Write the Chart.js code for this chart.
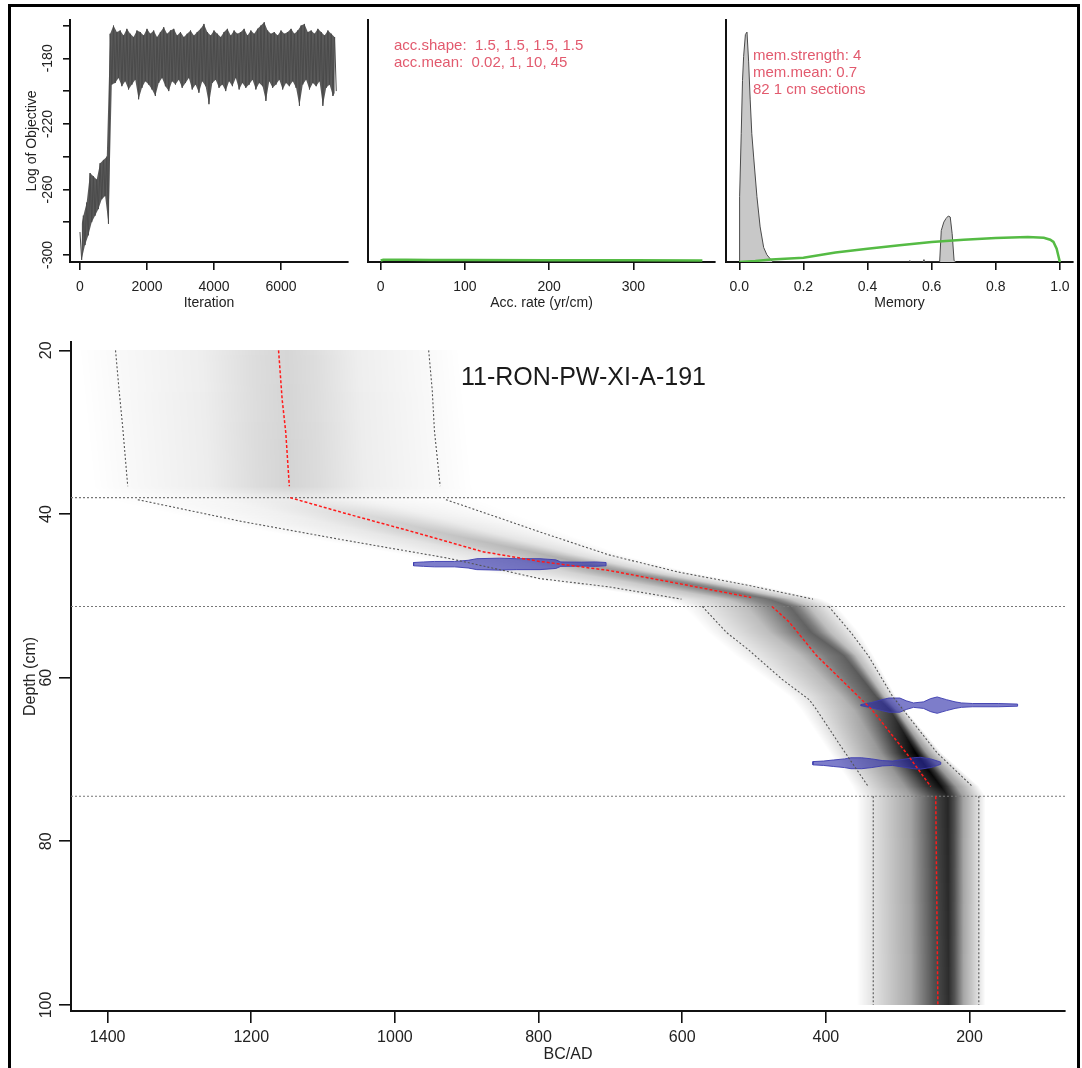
<!DOCTYPE html>
<html>
<head>
<meta charset="utf-8">
<script src="https://cdn.jsdelivr.net/npm/chart.js@4.4.1/dist/chart.umd.min.js"></script>
<style>
  html, body { margin: 0; padding: 0; background: #fff; overflow: hidden; }
  body { width: 1082px; height: 1068px; position: relative; }
  #frame { position: absolute; left: 8px; top: 4px; width: 1072px; height: 1100px; border: 3px solid #000; box-sizing: border-box; }
  canvas { position: absolute; }
</style>
</head>
<body>
<div id="frame"></div>
<canvas id="traceChart"></canvas>
<canvas id="accChart"></canvas>
<canvas id="memChart"></canvas>
<canvas id="ageChart"></canvas>
<script>
// ---------- MCMC trace (one high and one low value per 100 iterations) ----------
const traceIter = [0,100,200,300,400,500,600,700,800,900,1000,1100,1200,1300,1400,1500,1600,1700,1800,1900,
  2000,2100,2200,2300,2400,2500,2600,2700,2800,2900,3000,3100,3200,3300,3400,3500,3600,3700,3800,3900,
  4000,4100,4200,4300,4400,4500,4600,4700,4800,4900,5000,5100,5200,5300,5400,5500,5600,5700,5800,5900,
  6000,6100,6200,6300,6400,6500,6600,6700,6800,6900,7000,7100,7200,7300,7400,7500,7600];
const traceHigh = [-286,-276,-268,-250,-252,-254,-244,-242,-240,-165,-160,-164,-163,-166,-162,-165,-167,-163,-164,-166,
  -162,-165,-163,-167,-164,-161,-165,-163,-162,-166,-164,-167,-165,-163,-166,-164,-162,-159,-164,-166,
  -163,-165,-167,-164,-162,-166,-163,-165,-164,-162,-166,-163,-165,-162,-160,-158,-163,-165,-164,-166,
  -163,-165,-164,-162,-165,-163,-160,-159,-164,-163,-165,-162,-164,-166,-163,-165,-167];
const traceLow = [-303,-294,-288,-280,-276,-272,-266,-264,-281,-196,-195,-192,-197,-194,-199,-196,-193,-205,-198,-194,
  -196,-199,-203,-195,-192,-197,-200,-194,-196,-193,-198,-195,-192,-199,-196,-201,-194,-197,-208,-195,
  -193,-198,-196,-200,-194,-197,-192,-199,-195,-198,-196,-193,-199,-195,-197,-206,-194,-198,-196,-193,
  -199,-195,-197,-194,-198,-209,-196,-193,-199,-195,-197,-194,-209,-198,-196,-203,-200];
const traceXTicks = [0, 2000, 4000, 6000];
const traceYTicks = [-300, -280, -260, -240, -220, -200, -180, -160];
const traceYLabels = [-300, -260, -220, -180];

// ---------- accumulation rate prior ----------
const accRate = [0, 3, 10, 30, 60, 100, 200, 300, 382];
const accPrior = [0.006, 0.009, 0.009, 0.009, 0.008, 0.008, 0.007, 0.007, 0.006];
const accTicks = [0, 100, 200, 300];
const accNotes = ['acc.shape:  1.5, 1.5, 1.5, 1.5', 'acc.mean:  0.02, 1, 10, 45'];

// ---------- memory posterior and prior ----------
const memValue = [0, 0.001, 0.006, 0.010, 0.0135, 0.019, 0.024, 0.029, 0.034, 0.039, 0.045, 0.055, 0.065, 0.076, 0.086, 0.096, 0.105,
  0.53, 0.532, 0.534, 0.573, 0.576, 0.579, 0.625, 0.630, 0.638, 0.645, 0.652, 0.658, 0.664, 0.670, 0.675];
const memDensity = [0, 0.27, 0.53, 0.75, 0.85, 0.94, 0.95, 0.83, 0.67, 0.53, 0.43, 0.27, 0.145, 0.06, 0.03, 0.014, 0,
  0, 0.006, 0, 0, 0.01, 0, 0, 0.13, 0.165, 0.18, 0.19, 0.186, 0.117, 0.007, 0];
const memPriorValue = [0, 0.05, 0.1, 0.2, 0.3, 0.4, 0.5, 0.6, 0.7, 0.8, 0.9, 0.95, 0.97, 0.98, 0.99, 1.0];
const memPrior = [0, 0.004, 0.01, 0.018, 0.039, 0.055, 0.069, 0.083, 0.092, 0.099, 0.103, 0.1, 0.092, 0.083, 0.055, 0];
const memTicks = [0, 0.2, 0.4, 0.6, 0.8, 1.0];
const memNotes = ['mem.strength: 4', 'mem.mean: 0.7', '82 1 cm sections'];

// ---------- age-depth model (null = break between sections) ----------
const coreName = '11-RON-PW-XI-A-191';
const boundaryDepths = [38, 51.3, 74.5];
const meanDepth = [20, 26, 30, 36.6, null, 38, 39.9, 42.2, 44.6, 45.8, 46.9, 48.5, 50.2, null, 51.3, 53.2, 57.3, 61.4, 63.9, 69.2, 73.3, null, 74.5, 100];
const meanAge =   [1162, 1157, 1152, 1147, null, 1146, 1070, 974, 878, 798, 702, 605, 504, null, 475, 451, 413, 365, 336, 288, 254, null, 247, 244];
const oldDepth = [20, 24.9, 29.4, 36.6, null, 38.25, 40.9, 43.2, 45.4, 47.9, 48.9, 50.4, null, 51.3, 54.5, 56.5, 60.2, 62.7, 63.9, 68.4, 73.3, null, 74.5, 100];
const oldAge =   [1389, 1384, 1379, 1372, null, 1358, 1214, 1070, 926, 798, 702, 601, null, 572, 538, 509, 461, 423, 413, 379, 341, null, 334, 334];
const youngDepth = [20, 24.9, 29.8, 36.6, null, 38.25, 40.5, 42.2, 45, 47.1, 48.7, 50.4, null, 51.3, 54.5, 57.3, 62.3, 69.2, 73.3, null, 74.5, 100];
const youngAge =   [953, 948, 945, 937, null, 929, 854, 798, 702, 605, 509, 418, null, 396, 365, 341, 307, 245, 196, null, 187, 187];

// grey-scale age probabilities: 95% range, most likely age, relative peak density
const shadeDepth = [20, 36.6, 38.2, 40.5, 42.2, 45, 47.1, 48.7, 50.4, 51.3, 54.5, 57.3, 62.3, 64, 69.2, 73.3, 74.5, 100];
const shadeOld =   [1389, 1372, 1358, 1236, 1133, 952, 839, 721, 601, 572, 538, 499, 429, 412, 373, 341, 334, 334];
const shadePeak =  [1150, 1147, 1140, 1020, 940, 790, 680, 580, 480, 450, 420, 375, 330, 310, 275, 240, 230, 229];
const shadeYoung = [953, 937, 929, 854, 798, 702, 605, 509, 418, 396, 365, 341, 307, 292, 245, 196, 187, 187];
const shadeDensity = [0.16, 0.17, 0.08, 0.16, 0.22, 0.3, 0.4, 0.5, 0.56, 0.6, 0.62, 0.62, 0.68, 0.76, 1.0, 0.95, 0.85, 0.82];

// calibrated dates
const dateDepths = [46.13, 63.36, 70.46];
const dateAges = [
  [706, 721, 740, 769, 776, 798, 831, 854, 886, 898, 917, 945, 960, 974],
  [133, 160, 196, 211, 220, 232, 245, 254, 264, 278, 288, 297, 312, 322, 336, 351],
  [240, 244.5, 254, 268.6, 278, 292.5, 307, 321.5, 336, 350, 365, 374, 389, 403, 418]
];
const dateProbs = [
  [0.2, 0.27, 0.24, 0.27, 0.53, 0.67, 0.67, 0.73, 0.67, 0.47, 0.33, 0.33, 0.27, 0.2],
  [0.13, 0.2, 0.2, 0.27, 0.4, 0.67, 1.0, 0.8, 0.4, 0.27, 0.53, 0.87, 0.87, 0.67, 0.33, 0.07],
  [0.13, 0.27, 0.53, 0.73, 0.67, 0.47, 0.27, 0.33, 0.53, 0.67, 0.67, 0.53, 0.4, 0.27, 0.2]
];
const ageTicks = [1400, 1200, 1000, 800, 600, 400, 200];
const depthTicks = [20, 40, 60, 80, 100];

// ---------- helpers ----------
const FONT = '"Liberation Sans", Arial, Helvetica, sans-serif';
const INK = '#111';
const TEXT = '#222';
const NOTE = '#e25a6e';
const DATE_HALF_HEIGHT = 1.0; // cm for a probability of 1

function axis(o) {
  const hasTicks = !!o.values;
  return {
    type: 'linear', min: o.min, max: o.max, reverse: !!o.reverse, bounds: 'data',
    border: { display: true, color: INK, width: 2 },
    grid: { display: hasTicks, drawOnChartArea: false, drawTicks: true, tickLength: o.tickLength || 0, color: INK, lineWidth: 1.6 },
    ticks: {
      display: hasTicks, autoSkip: false, color: TEXT, padding: o.padding || 0,
      font: { family: FONT, size: o.size || 14 },
      minRotation: o.rotate || 0, maxRotation: o.rotate || 0,
      crossAlign: o.rotate ? 'center' : 'near',
      callback: o.format || (v => String(v))
    },
    afterBuildTicks: s => { s.ticks = (o.values || []).map(v => ({ value: v })); },
    title: { display: !!o.title, text: o.title || '', color: TEXT,
      font: { family: FONT, size: o.titleSize || o.size || 14 }, padding: o.titlePadding || 0 }
  };
}

function notes(items) {
  return {
    id: 'notes',
    afterDraw(chart) {
      const { ctx, chartArea } = chart;
      ctx.save();
      items.forEach(it => {
        ctx.font = it.size + 'px ' + FONT;
        ctx.fillStyle = it.color;
        ctx.textAlign = 'left';
        ctx.textBaseline = 'alphabetic';
        ctx.fillText(it.text, chartArea.left + it.dx, chartArea.top + it.dy);
      });
      ctx.restore();
    }
  };
}

function makeChart(id, box, area, datasets, xOpt, yOpt, plugins) {
  const canvas = document.getElementById(id);
  canvas.width = box.width;
  canvas.height = box.height;
  canvas.style.left = box.left + 'px';
  canvas.style.top = box.top + 'px';
  xOpt.afterFit = s => { s.height = box.top + box.height - area.bottom; };
  yOpt.afterFit = s => { s.width = area.left - box.left; };
  return new Chart(canvas, {
    type: 'line',
    data: { datasets: datasets },
    options: {
      responsive: false, animation: false, devicePixelRatio: 1,
      layout: { padding: { top: area.top - box.top, right: box.left + box.width - area.right, bottom: 0, left: 0 } },
      plugins: { legend: { display: false }, tooltip: { enabled: false } },
      elements: { point: { radius: 0 }, line: { tension: 0 } },
      scales: { x: xOpt, y: yOpt }
    },
    plugins: plugins || []
  });
}

function xy(xs, ys) {
  return xs.map((x, i) => ({ x: x, y: ys[i] }));
}

// ---------- panel 1: trace ----------
const tracePoints = [];
traceIter.forEach((it, i) => {
  tracePoints.push({ x: it, y: traceHigh[i] });
  tracePoints.push({ x: it + 50, y: traceLow[i] });
});
const traceTop = xy(traceIter, traceHigh);
const traceBottom = traceIter.map((it, i) => ({ x: it + 50, y: traceLow[i] }));

makeChart('traceChart', { left: 0, top: 0, width: 350, height: 320 }, { left: 70, top: 20, right: 348, bottom: 262 },
  [
    { data: tracePoints, borderColor: '#4a4a4a', borderWidth: 1, pointRadius: 0, order: 0 },
    { data: traceTop, borderColor: 'rgba(0,0,0,0)', borderWidth: 0, pointRadius: 0, order: 2 },
    { data: traceBottom, borderColor: 'rgba(0,0,0,0)', borderWidth: 0, backgroundColor: '#5a5a5a', fill: '-1', pointRadius: 0, order: 1 }
  ],
  axis({ min: -298, max: 8000, values: traceXTicks, tickLength: 8, padding: 9, size: 14,
    title: 'Iteration', titlePadding: { top: 0, bottom: 8 } }),
  axis({ min: -304.3, max: -156.6, values: traceYTicks, tickLength: 7, padding: 1, size: 14, rotate: 90,
    format: v => traceYLabels.includes(v) ? String(v) : '',
    title: 'Log of Objective', titlePadding: { top: 23.6, bottom: 0 } })
);

// ---------- panel 2: accumulation rate ----------
makeChart('accChart', { left: 350, top: 0, width: 366, height: 320 }, { left: 368, top: 20, right: 715, bottom: 262 },
  [{ data: xy(accRate, accPrior), borderColor: '#55bb44', borderWidth: 2.5, pointRadius: 0 }],
  axis({ min: -15.1, max: 397, values: accTicks, tickLength: 8, padding: 9, size: 14,
    title: 'Acc. rate (yr/cm)', titlePadding: { top: 0, bottom: 8 } }),
  axis({ min: 0, max: 1 }),
  [notes([
    { text: accNotes[0], dx: 26, dy: 30, size: 15, color: NOTE },
    { text: accNotes[1], dx: 26, dy: 47, size: 15, color: NOTE }
  ])]
);

// ---------- panel 3: memory ----------
makeChart('memChart', { left: 716, top: 0, width: 366, height: 320 }, { left: 726, top: 20, right: 1073, bottom: 262 },
  [
    { data: xy(memPriorValue, memPrior), borderColor: '#55bb44', borderWidth: 2.5, pointRadius: 0, order: 0 },
    { data: xy(memValue, memDensity), borderColor: '#4a4a4a', borderWidth: 1, backgroundColor: '#c8c8c8', fill: 'origin', pointRadius: 0, order: 1 }
  ],
  axis({ min: -0.0415, max: 1.041, values: memTicks, tickLength: 8, padding: 9, size: 14, format: v => v.toFixed(1),
    title: 'Memory', titlePadding: { top: 0, bottom: 8 } }),
  axis({ min: 0, max: 1 }),
  [notes([
    { text: memNotes[0], dx: 27, dy: 40, size: 15, color: NOTE },
    { text: memNotes[1], dx: 27, dy: 57, size: 15, color: NOTE },
    { text: memNotes[2], dx: 27, dy: 74, size: 15, color: NOTE }
  ])]
);

// ---------- panel 4: age-depth model ----------
const shadePlugin = {
  id: 'ageShade',
  beforeDatasetsDraw(chart) {
    const { ctx, chartArea } = chart;
    const x = chart.scales.x, y = chart.scales.y;
    ctx.save();
    ctx.beginPath();
    ctx.rect(chartArea.left, chartArea.top, chartArea.width, chartArea.height);
    ctx.clip();
    const yTop = Math.round(y.getPixelForValue(shadeDepth[0]));
    const yBot = Math.round(y.getPixelForValue(shadeDepth[shadeDepth.length - 1]));
    let k = 0;
    for (let py = yTop; py < yBot; py++) {
      const d = y.getValueForPixel(py + 0.5);
      while (k < shadeDepth.length - 2 && d > shadeDepth[k + 1]) k++;
      const t = Math.min(1, Math.max(0, (d - shadeDepth[k]) / (shadeDepth[k + 1] - shadeDepth[k])));
      const mix = arr => arr[k] + t * (arr[k + 1] - arr[k]);
      const dens = mix(shadeDensity);
      const xl = x.getPixelForValue(mix(shadeOld));
      const xp = x.getPixelForValue(mix(shadePeak));
      const xh = x.getPixelForValue(mix(shadeYoung));
      const a = xl - 0.22 * (xp - xl), b = xh + 0.22 * (xh - xp), w = b - a;
      const g = ctx.createLinearGradient(a, 0, b, 0);
      const stop = (px, al) => g.addColorStop(Math.min(1, Math.max(0, (px - a) / w)), 'rgba(0,0,0,' + (al * dens).toFixed(3) + ')');
      stop(a, 0); stop(xl, 0.14);
      stop(xl + 0.5 * (xp - xl), 0.42); stop(xl + 0.8 * (xp - xl), 0.82); stop(xp, 1);
      stop(xp + 0.2 * (xh - xp), 0.82); stop(xp + 0.5 * (xh - xp), 0.42);
      stop(xh, 0.14); stop(b, 0);
      ctx.fillStyle = g;
      ctx.fillRect(a, py, w, 1);
    }
    ctx.restore();
  }
};

const ageSets = [];
ageSets.push({ data: xy(meanAge, meanDepth), borderColor: '#ff1a1a', borderWidth: 1.5, borderDash: [3, 2], pointRadius: 0, order: 0 });
ageSets.push({ data: xy(oldAge, oldDepth), borderColor: '#555', borderWidth: 1.1, borderDash: [2, 2], pointRadius: 0, order: 1 });
ageSets.push({ data: xy(youngAge, youngDepth), borderColor: '#555', borderWidth: 1.1, borderDash: [2, 2], pointRadius: 0, order: 1 });
boundaryDepths.forEach(d => {
  ageSets.push({ data: [{ x: 1451, y: d }, { x: 67, y: d }], borderColor: '#777', borderWidth: 1.1, borderDash: [2, 2], pointRadius: 0, order: 2 });
});
dateDepths.forEach((depth, j) => {
  const ages = dateAges[j], probs = dateProbs[j];
  const pts = [];
  ages.forEach((a, i) => pts.push({ x: a, y: depth - probs[i] * DATE_HALF_HEIGHT }));
  for (let i = ages.length - 1; i >= 0; i--) pts.push({ x: ages[i], y: depth + probs[i] * DATE_HALF_HEIGHT });
  pts.push(pts[0]);
  ageSets.push({ data: pts, borderColor: 'rgba(60,60,175,0.9)', borderWidth: 1, backgroundColor: 'rgba(45,45,170,0.62)', fill: 'shape', pointRadius: 0, order: 3 });
});

makeChart('ageChart', { left: 0, top: 320, width: 1082, height: 748 }, { left: 71, top: 342, right: 1065, bottom: 1011 },
  ageSets,
  axis({ min: 67, max: 1451, reverse: true, values: ageTicks, tickLength: 12, padding: 5, size: 16,
    title: 'BC/AD', titlePadding: { top: 0, bottom: 3.4 } }),
  axis({ min: 18.98, max: 100.74, reverse: true, values: depthTicks, tickLength: 12, padding: -1.3, size: 16, rotate: 90,
    title: 'Depth (cm)', titlePadding: { top: 21.4, bottom: 0 } }),
  [shadePlugin, notes([{ text: coreName, dx: 390, dy: 43, size: 25, color: '#1a1a1a' }])]
);
</script>
</body>
</html>
